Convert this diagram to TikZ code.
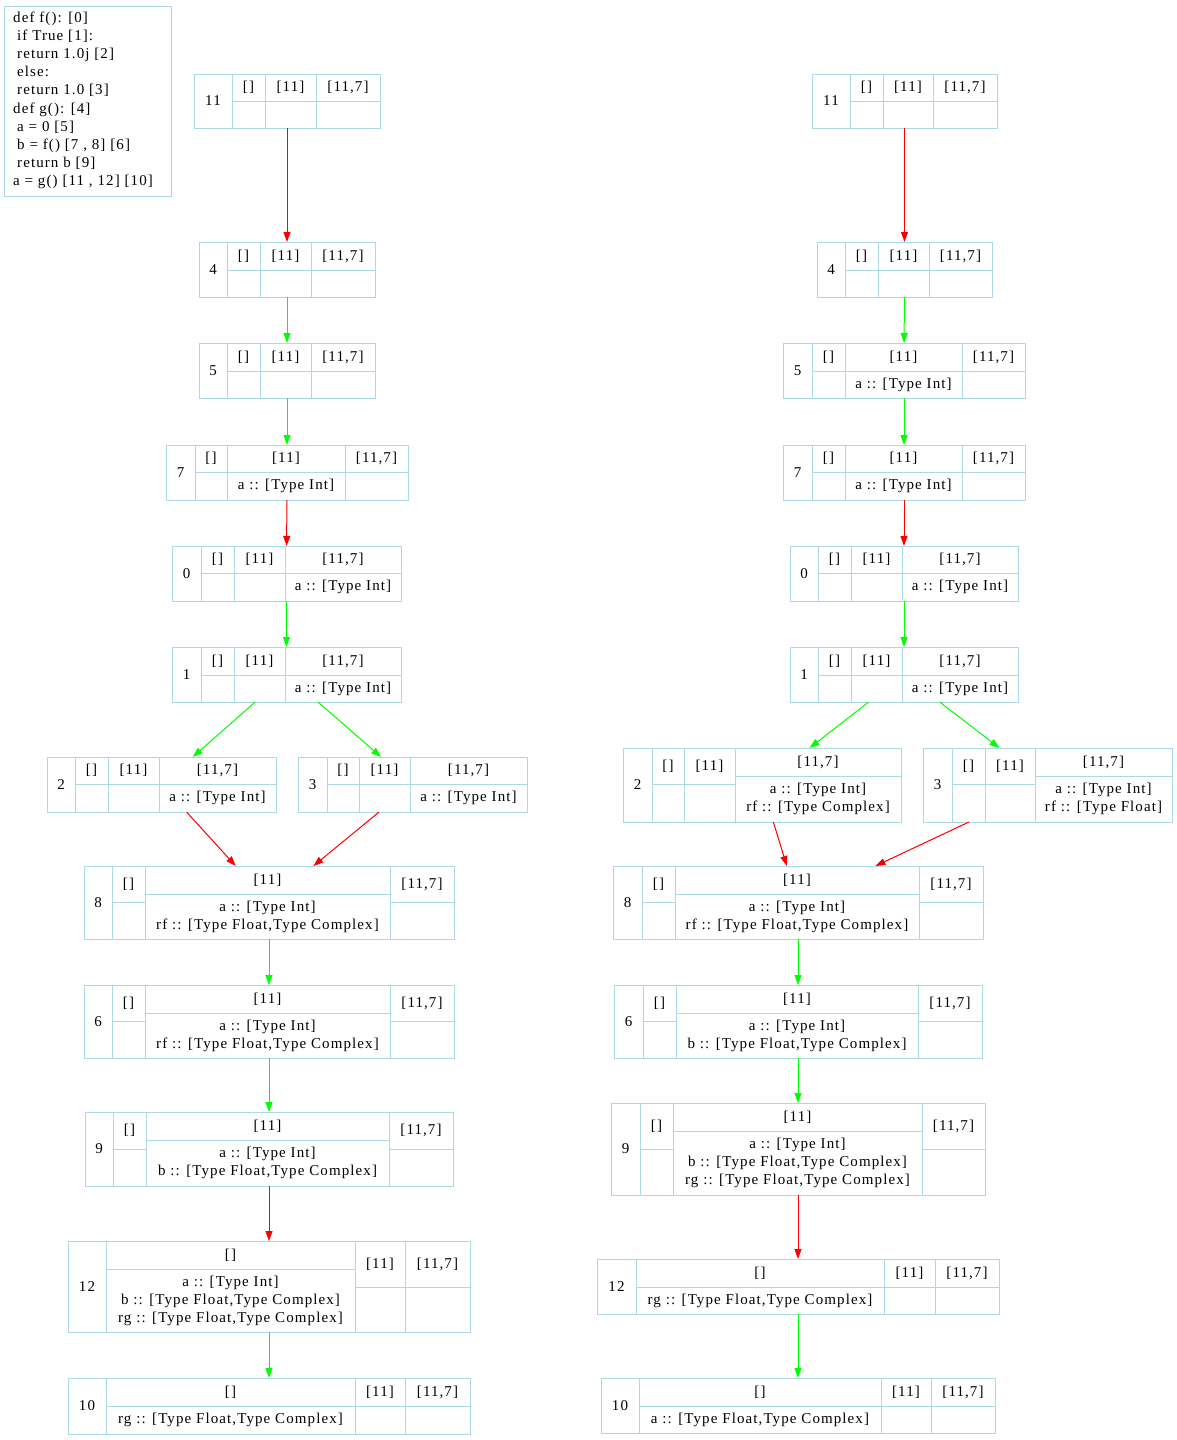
\documentclass[tikz,border=0pt]{standalone}
\usepackage{fontspec}
\setmainfont{Liberation Serif}[LetterSpace=7.3]
\usetikzlibrary{arrows.meta}
\definecolor{recblue}{RGB}{173,216,230}
\definecolor{edgered}{RGB}{255,0,0}
\definecolor{edgegreen}{RGB}{0,255,0}
\tikzset{
  recline/.style={draw=recblue, line width=1pt},
  celltext/.style={inner sep=0pt, align=center, font=\fontsize{15}{18}\selectfont},
  codetext/.style={inner sep=0pt, anchor=base west, font=\fontsize{15}{18}\selectfont},
  recnode/.style={inner sep=0pt, outer sep=0pt, draw=none},
  redge/.style={draw=edgered, line width=1pt, -{Triangle[length=10pt,width=7pt]}},
  gedge/.style={draw=edgegreen, line width=1pt, -{Triangle[length=10pt,width=7pt]}}
}
% cell: x1 y1 x2 y2 text
\newcommand\cellbox[5]{\draw[recline] (#1,#2) rectangle (#3,#4); \node[celltext] at ({(#1+#3)/2},{(#2+#4)/2}) {#5};}
% record: name x1 y1 x2 y2 labelright label
\newcommand\recbox[7]{\node[recnode, minimum width={(#4-#2)*1pt}, minimum height={(#5-#3)*1pt}] (#1) at ({(#2+#4)/2},{(#3+#5)/2}) {}; \cellbox{#2}{#3}{#6}{#5}{#7}}
% column: xl xr y1 ysplit y2 top bottom
\newcommand\colbox[7]{\cellbox{#1}{#3}{#2}{#4}{#6}\cellbox{#1}{#4}{#2}{#5}{#7}}
\begin{document}
\begin{tikzpicture}[x=1pt,y=-1pt]
\fill[white] (0,0) rectangle (1177,1440);
\useasboundingbox (0,0) rectangle (1177,1440);

% code box
\node[recnode, draw=recblue, line width=1pt, minimum width=167pt, minimum height=190pt] (code) at (87.5,101) {};
\node[codetext] (c1) at (13,22.5) {def f(): [0]};
\node[codetext] (c2) at (13,40.6) {\hspace*{4pt}if True [1]:};
\node[codetext] (c3) at (13,58.7) {\hspace*{4pt}return 1.0j [2]};
\node[codetext] (c4) at (13,76.8) {\hspace*{4pt}else:};
\node[codetext] (c5) at (13,94.9) {\hspace*{4pt}return 1.0 [3]};
\node[codetext] (c6) at (13,113) {def g(): [4]};
\node[codetext] (c7) at (13,131.1) {\hspace*{4pt}a = 0 [5]};
\node[codetext] (c8) at (13,149.2) {\hspace*{4pt}b = f() [7 , 8] [6]};
\node[codetext] (c9) at (13,167.3) {\hspace*{4pt}return b [9]};
\node[codetext] (c10) at (13,185.4) {a = g() [11 , 12] [10]};

% ===== left column =====
\recbox{L11}{194}{74}{380}{128}{232}{11}
\colbox{232}{265}{74}{101}{128}{[]}{}
\colbox{265}{316}{74}{101}{128}{[11]}{}
\colbox{316}{380}{74}{101}{128}{[11,7]}{}

\recbox{L4}{199}{242}{375}{297}{227}{4}
\colbox{227}{260}{242}{270}{297}{[]}{}
\colbox{260}{311}{242}{270}{297}{[11]}{}
\colbox{311}{375}{242}{270}{297}{[11,7]}{}

\recbox{L5}{199}{343}{375}{398}{227}{5}
\colbox{227}{260}{343}{371}{398}{[]}{}
\colbox{260}{311}{343}{371}{398}{[11]}{}
\colbox{311}{375}{343}{371}{398}{[11,7]}{}

\recbox{L7}{166}{445}{408}{500}{195}{7}
\colbox{195}{227}{445}{472}{500}{[]}{}
\colbox{227}{345}{445}{472}{500}{[11]}{a :: [Type Int]}
\colbox{345}{408}{445}{472}{500}{[11,7]}{}

\recbox{L0}{172}{546}{401}{601}{201}{0}
\colbox{201}{234}{546}{573}{601}{[]}{}
\colbox{234}{285}{546}{573}{601}{[11]}{}
\colbox{285}{401}{546}{573}{601}{[11,7]}{a :: [Type Int]}

\recbox{L1}{172}{647}{401}{702}{201}{1}
\colbox{201}{234}{647}{675}{702}{[]}{}
\colbox{234}{285}{647}{675}{702}{[11]}{}
\colbox{285}{401}{647}{675}{702}{[11,7]}{a :: [Type Int]}

\recbox{L2}{47}{757}{276}{812}{75}{2}
\colbox{75}{108}{757}{784}{812}{[]}{}
\colbox{108}{159}{757}{784}{812}{[11]}{}
\colbox{159}{276}{757}{784}{812}{[11,7]}{a :: [Type Int]}

\recbox{L3}{298}{757}{527}{812}{327}{3}
\colbox{327}{359}{757}{784}{812}{[]}{}
\colbox{359}{410}{757}{784}{812}{[11]}{}
\colbox{410}{527}{757}{784}{812}{[11,7]}{a :: [Type Int]}

\recbox{L8}{84}{866}{454}{939}{112}{8}
\colbox{112}{145}{866}{902}{939}{[]}{}
\colbox{145}{390}{866}{894}{939}{[11]}{a :: [Type Int]\\rf :: [Type Float,Type Complex]}
\colbox{390}{454}{866}{902}{939}{[11,7]}{}

\recbox{L6}{84}{985}{454}{1058}{112}{6}
\colbox{112}{145}{985}{1021}{1058}{[]}{}
\colbox{145}{390}{985}{1013}{1058}{[11]}{a :: [Type Int]\\rf :: [Type Float,Type Complex]}
\colbox{390}{454}{985}{1021}{1058}{[11,7]}{}

\recbox{L9}{85}{1112}{453}{1186}{113}{9}
\colbox{113}{146}{1112}{1149}{1186}{[]}{}
\colbox{146}{389}{1112}{1140}{1186}{[11]}{a :: [Type Int]\\b :: [Type Float,Type Complex]}
\colbox{389}{453}{1112}{1149}{1186}{[11,7]}{}

\recbox{L12}{68}{1241}{470}{1332}{106}{12}
\colbox{106}{355}{1241}{1269}{1332}{[]}{a :: [Type Int]\\b :: [Type Float,Type Complex]\\rg :: [Type Float,Type Complex]}
\colbox{355}{405}{1241}{1287}{1332}{[11]}{}
\colbox{405}{470}{1241}{1287}{1332}{[11,7]}{}

\recbox{L10}{68}{1378}{470}{1434}{106}{10}
\colbox{106}{355}{1378}{1406}{1434}{[]}{rg :: [Type Float,Type Complex]}
\colbox{355}{405}{1378}{1406}{1434}{[11]}{}
\colbox{405}{470}{1378}{1406}{1434}{[11,7]}{}

% ===== right column =====
\recbox{R11}{812}{74}{997}{128}{850}{11}
\colbox{850}{883}{74}{101}{128}{[]}{}
\colbox{883}{933}{74}{101}{128}{[11]}{}
\colbox{933}{997}{74}{101}{128}{[11,7]}{}

\recbox{R4}{817}{242}{992}{297}{845}{4}
\colbox{845}{878}{242}{270}{297}{[]}{}
\colbox{878}{929}{242}{270}{297}{[11]}{}
\colbox{929}{992}{242}{270}{297}{[11,7]}{}

\recbox{R5}{783}{343}{1025}{398}{812}{5}
\colbox{812}{845}{343}{371}{398}{[]}{}
\colbox{845}{962}{343}{371}{398}{[11]}{a :: [Type Int]}
\colbox{962}{1025}{343}{371}{398}{[11,7]}{}

\recbox{R7}{783}{445}{1025}{500}{812}{7}
\colbox{812}{845}{445}{472}{500}{[]}{}
\colbox{845}{962}{445}{472}{500}{[11]}{a :: [Type Int]}
\colbox{962}{1025}{445}{472}{500}{[11,7]}{}

\recbox{R0}{790}{546}{1018}{601}{818}{0}
\colbox{818}{851}{546}{573}{601}{[]}{}
\colbox{851}{902}{546}{573}{601}{[11]}{}
\colbox{902}{1018}{546}{573}{601}{[11,7]}{a :: [Type Int]}

\recbox{R1}{790}{647}{1018}{702}{818}{1}
\colbox{818}{851}{647}{675}{702}{[]}{}
\colbox{851}{902}{647}{675}{702}{[11]}{}
\colbox{902}{1018}{647}{675}{702}{[11,7]}{a :: [Type Int]}

\recbox{R2}{623}{748}{901}{822}{652}{2}
\colbox{652}{684}{748}{784}{822}{[]}{}
\colbox{684}{735}{748}{784}{822}{[11]}{}
\colbox{735}{901}{748}{776}{822}{[11,7]}{a :: [Type Int]\\rf :: [Type Complex]}

\recbox{R3}{923}{748}{1172}{822}{952}{3}
\colbox{952}{985}{748}{784}{822}{[]}{}
\colbox{985}{1035}{748}{784}{822}{[11]}{}
\colbox{1035}{1172}{748}{776}{822}{[11,7]}{a :: [Type Int]\\rf :: [Type Float]}

\recbox{R8}{613}{866}{983}{939}{642}{8}
\colbox{642}{675}{866}{902}{939}{[]}{}
\colbox{675}{919}{866}{894}{939}{[11]}{a :: [Type Int]\\rf :: [Type Float,Type Complex]}
\colbox{919}{983}{866}{902}{939}{[11,7]}{}

\recbox{R6}{614}{985}{982}{1058}{643}{6}
\colbox{643}{676}{985}{1021}{1058}{[]}{}
\colbox{676}{918}{985}{1013}{1058}{[11]}{a :: [Type Int]\\b :: [Type Float,Type Complex]}
\colbox{918}{982}{985}{1021}{1058}{[11,7]}{}

\recbox{R9}{611}{1103}{985}{1195}{640}{9}
\colbox{640}{673}{1103}{1149}{1195}{[]}{}
\colbox{673}{922}{1103}{1131}{1195}{[11]}{a :: [Type Int]\\b :: [Type Float,Type Complex]\\rg :: [Type Float,Type Complex]}
\colbox{922}{985}{1103}{1149}{1195}{[11,7]}{}

\recbox{R12}{597}{1259}{999}{1314}{636}{12}
\colbox{636}{884}{1259}{1287}{1314}{[]}{rg :: [Type Float,Type Complex]}
\colbox{884}{935}{1259}{1287}{1314}{[11]}{}
\colbox{935}{999}{1259}{1287}{1314}{[11,7]}{}

\recbox{R10}{601}{1378}{995}{1433}{639}{10}
\colbox{639}{881}{1378}{1406}{1433}{[]}{a :: [Type Float,Type Complex]}
\colbox{881}{931}{1378}{1406}{1433}{[11]}{}
\colbox{931}{995}{1378}{1406}{1433}{[11,7]}{}

% ===== edges =====
\draw[redge] (L11) -- (L4);
\draw[gedge] (L4) -- (L5);
\draw[gedge] (L5) -- (L7);
\draw[redge] (L7) -- (L0);
\draw[gedge] (L0) -- (L1);
\draw[gedge] (L1) -- (L2);
\draw[gedge] (L1) -- (L3);
\draw[redge] (L2) -- (L8);
\draw[redge] (L3) -- (L8);
\draw[gedge] (L8) -- (L6);
\draw[gedge] (L6) -- (L9);
\draw[redge] (L9) -- (L12);
\draw[gedge] (L12) -- (L10);

\draw[redge] (R11) -- (R4);
\draw[gedge] (R4) -- (R5);
\draw[gedge] (R5) -- (R7);
\draw[redge] (R7) -- (R0);
\draw[gedge] (R0) -- (R1);
\draw[gedge] (R1) -- (R2);
\draw[gedge] (R1) -- (R3);
\draw[redge] (R2) -- (R8);
\draw[redge] (R3) -- (R8);
\draw[gedge] (R8) -- (R6);
\draw[gedge] (R6) -- (R9);
\draw[redge] (R9) -- (R12);
\draw[gedge] (R12) -- (R10);
\end{tikzpicture}
\end{document}
